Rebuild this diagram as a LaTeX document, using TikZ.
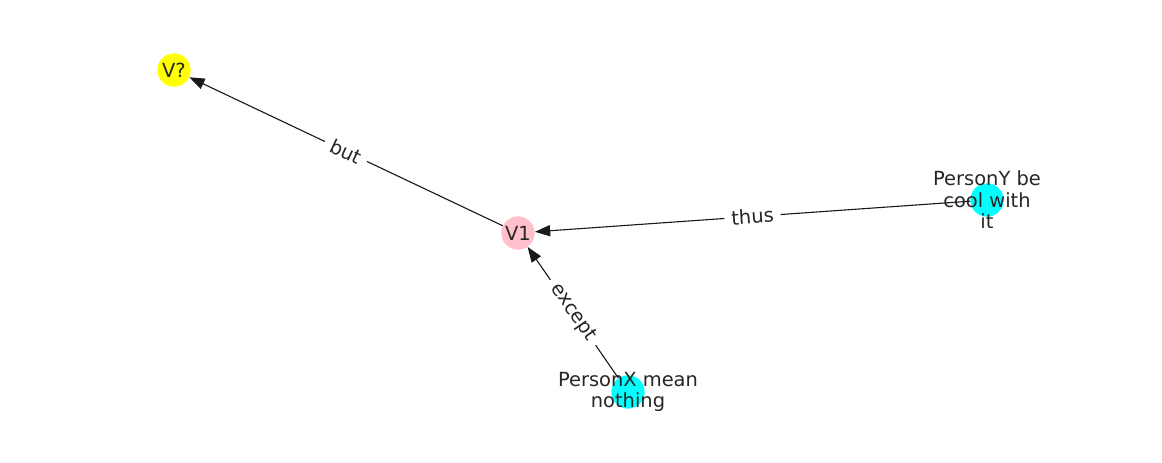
\documentclass[tikz,border=0pt]{standalone}
\usepackage{fontspec}
\setmainfont{DejaVu Sans}
\usetikzlibrary{arrows.meta}
\definecolor{nodecyan}{RGB}{0,255,255}
\definecolor{nodepink}{RGB}{255,192,203}
\definecolor{nodeyellow}{RGB}{255,255,0}

\begin{document}
\begin{tikzpicture}[x=0.72pt,y=-0.72pt]
	\tikzset{
		vert/.style={circle,minimum size=24pt,inner sep=0pt},
		vtext/.style={align=center,text=black!85,font=\fontsize{14}{15.5}\selectfont},
		elabel/.style={sloped,fill=white,inner sep=5pt,text=black!85,font=\fontsize{14}{16}\selectfont}
	}
	\useasboundingbox (0,0) rectangle (1162,462);
	\node[vert,fill=nodeyellow] (vq) at (174,70) {};
	\node[vert,fill=nodepink] (v1) at (518,233) {};
	\node[vert,fill=nodecyan] (py) at (987,200) {};
	\node[vert,fill=nodecyan] (px) at (628,392) {};
	\path[-{Triangle[length=11pt,width=8pt]},line width=0.8pt,black!90]
		(v1) edge node[elabel] {but} (vq)
		(py) edge node[elabel] {thus} (v1)
		(px) edge node[elabel] {except} (v1);
	\node[vtext] (tq) at (vq) {V?};
	\node[vtext] (t1) at (v1) {V1};
	\node[vtext] (ty) at (py) {PersonY be\\cool with\\it};
	\node[vtext] (tx) at (px) {PersonX mean\\nothing};
\end{tikzpicture}
\end{document}
